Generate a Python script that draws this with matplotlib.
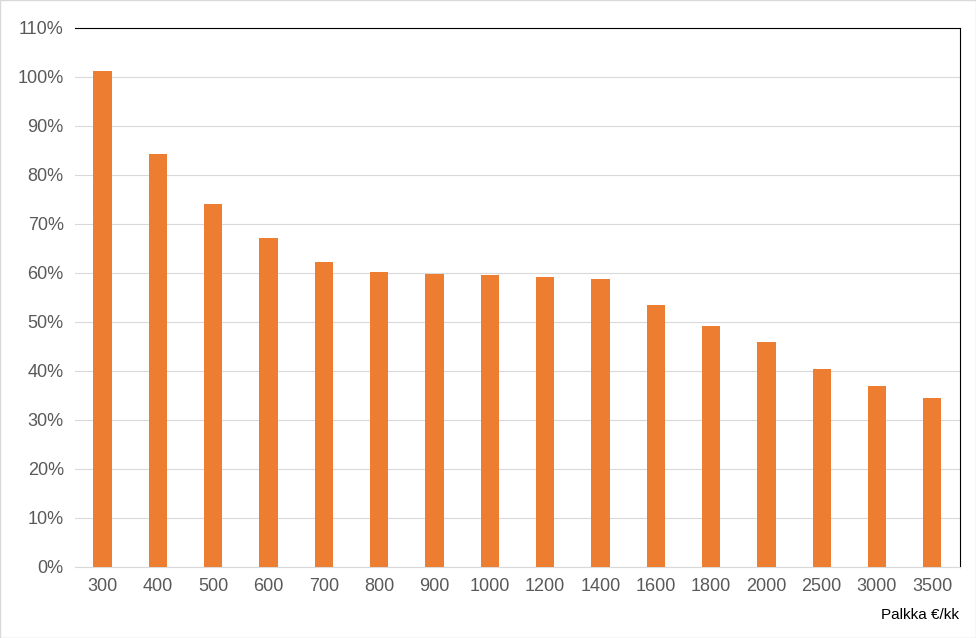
import matplotlib
matplotlib.use("Agg")
import matplotlib.pyplot as plt
from matplotlib.ticker import PercentFormatter

categories = ["300","400","500","600","700","800","900","1000","1200","1400","1600","1800","2000","2500","3000","3500"]
values = [101.2,84.3,74.1,67.1,62.2,60.2,59.8,59.6,59.2,58.8,53.5,49.2,45.9,40.4,36.9,34.5]

plt.rcParams['font.family'] = ['Liberation Sans', 'DejaVu Sans']
fig = plt.figure(figsize=(9.76,6.38), dpi=100)
fig.patches.append(plt.Rectangle((0,0),1,1,transform=fig.transFigure,fill=False,edgecolor='#d9d9d9',lw=1))
ax = fig.add_axes([0.0768,0.1113,0.9068,0.845])
x = range(len(categories))
ax.bar(x, values, width=0.33, color='#ED7D31', zorder=3)
ax.set_xlim(-0.5, len(categories)-0.5)
ax.set_ylim(0,110)
ax.set_yticks(range(0,111,10))
ax.yaxis.set_major_formatter(PercentFormatter(decimals=0))
ax.set_xticks(list(x))
ax.set_xticklabels(categories)
ax.grid(axis='y', color='#d9d9d9', lw=0.8, zorder=0)
for s in ['top','right']:
    ax.spines[s].set_color('black'); ax.spines[s].set_linewidth(0.8)
ax.spines['left'].set_visible(False)
ax.spines['bottom'].set_color('#d9d9d9')
ax.tick_params(length=0, labelsize=13, colors='#595959', pad=8)
fig.text(0.983, 0.025, "Palkka €/kk", ha='right', va='bottom', fontsize=11, color='black')
fig.savefig("out.png", dpi=100)
